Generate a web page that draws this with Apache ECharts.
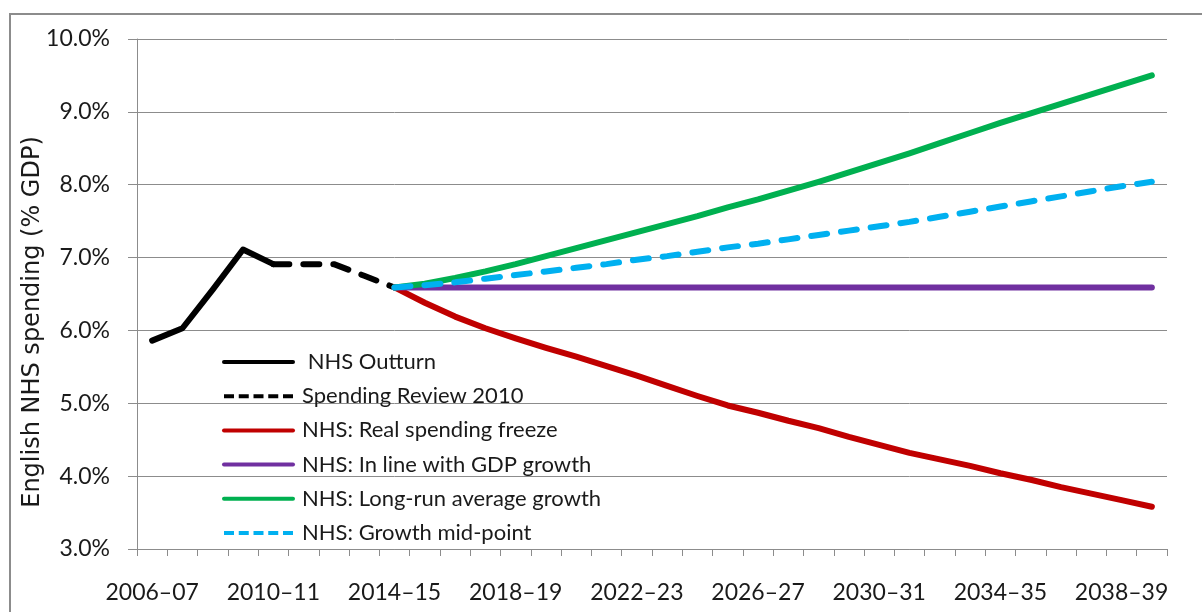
<!DOCTYPE html>
<html>
<head>
<meta charset="utf-8">
<script src="https://cdn.jsdelivr.net/npm/echarts@6/dist/echarts.min.js"></script>
<style>
html,body{margin:0;padding:0;background:#fff;}
#chart{width:1202px;height:612px;}
</style>
</head>
<body>
<div id="chart"></div>
<script>
var categories = ['2006–07','2007–08','2008–09','2009–10','2010–11','2011–12','2012–13','2013–14','2014–15','2015–16','2016–17','2017–18','2018–19','2019–20','2020–21','2021–22','2022–23','2023–24','2024–25','2025–26','2026–27','2027–28','2028–29','2029–30','2030–31','2031–32','2032–33','2033–34','2034–35','2035–36','2036–37','2037–38','2038–39','2039–40'];

var outturn = [5.86, 6.03, 6.56, 7.11, 6.91];
var spendingReview = [6.91, 6.91, 6.91, 6.75, 6.59];
var realFreeze = [6.59, 6.38, 6.19, 6.03, 5.89, 5.76, 5.64, 5.51, 5.38, 5.24, 5.10, 4.97, 4.87, 4.76, 4.66, 4.54, 4.43, 4.32, 4.23, 4.14, 4.04, 3.95, 3.85, 3.76, 3.67, 3.58];
var gdpGrowth = [6.59, 6.59, 6.59, 6.59, 6.59, 6.59, 6.59, 6.59, 6.59, 6.59, 6.59, 6.59, 6.59, 6.59, 6.59, 6.59, 6.59, 6.59, 6.59, 6.59, 6.59, 6.59, 6.59, 6.59, 6.59, 6.59];
var longRun = [6.59, 6.64, 6.72, 6.81, 6.91, 7.02, 7.13, 7.24, 7.35, 7.46, 7.57, 7.69, 7.80, 7.92, 8.04, 8.17, 8.30, 8.43, 8.57, 8.71, 8.85, 8.98, 9.11, 9.24, 9.37, 9.50];
var midPoint = [6.59, 6.62, 6.66, 6.71, 6.76, 6.81, 6.86, 6.91, 6.97, 7.02, 7.08, 7.14, 7.19, 7.25, 7.31, 7.37, 7.43, 7.49, 7.56, 7.63, 7.70, 7.77, 7.84, 7.91, 7.98, 8.04];

var yTicks = {min: 3, max: 10, interval: 1};

function place(values, startIndex) {
  var arr = [];
  for (var i = 0; i < categories.length; i++) {
    var j = i - startIndex;
    arr.push(j >= 0 && j < values.length ? values[j] : null);
  }
  return arr;
}

var FONT = 'Lato';
var chart = echarts.init(document.getElementById('chart'));

function lineSeries(name, data, color, type) {
  return {
    name: name,
    type: 'line',
    data: data,
    symbol: 'none',
    showSymbol: false,
    connectNulls: false,
    animation: false,
    lineStyle: {color: color, width: 6, type: type || 'solid', cap: 'round', join: 'round'},
    itemStyle: {color: color},
    emphasis: {disabled: true}
  };
}

var legendDash = [10, 4.75];

chart.setOption({
  backgroundColor: '#fff',
  animation: false,
  grid: {left: 137, right: 35, top: 39, bottom: 63, containLabel: false, outerBoundsMode: 'none'},
  graphic: [
    {type: 'rect', shape: {x: 10, y: 14, width: 1300, height: 700}, style: {fill: 'none', stroke: '#8c8c8c', lineWidth: 2}, silent: true, z: -1},
    {type: 'text', x: 33, y: 322, rotation: Math.PI / 2,
     style: {text: 'English NHS spending (% GDP)', fontFamily: 'DejaVu Sans', fontSize: 24, fill: '#1a1a1a', align: 'center', verticalAlign: 'middle'}}
  ],
  legend: {
    orient: 'vertical',
    left: 217,
    top: 345,
    itemWidth: 69,
    itemHeight: 14,
    itemGap: 10.2,
    padding: 5,
    selectedMode: false,
    itemStyle: {opacity: 0},
    lineStyle: {width: 4},
    textStyle: {fontFamily: FONT, fontSize: 22, color: '#1a1a1a', lineHeight: 24, padding: [0, 0, 0, 4]},
    data: [
      {name: ' NHS Outturn'},
      {name: 'Spending Review 2010', lineStyle: {width: 4, type: legendDash, cap: 'butt'}},
      {name: 'NHS: Real spending freeze'},
      {name: 'NHS: In line with GDP growth'},
      {name: 'NHS: Long-run average growth'},
      {name: 'NHS: Growth mid-point', lineStyle: {width: 4, type: legendDash, cap: 'butt'}}
    ]
  },
  xAxis: {
    type: 'category',
    data: categories,
    boundaryGap: true,
    axisLine: {lineStyle: {color: '#8c8c8c', width: 1}},
    axisTick: {show: true, interval: 0, length: 7, alignWithLabel: false, lineStyle: {color: '#8c8c8c'}},
    axisLabel: {interval: 3, margin: 32, fontFamily: FONT, fontSize: 23, color: '#1a1a1a'},
    splitLine: {show: false}
  },
  yAxis: {
    type: 'value',
    min: yTicks.min,
    max: yTicks.max,
    interval: yTicks.interval,
    axisLine: {show: true, lineStyle: {color: '#8c8c8c', width: 1}},
    axisTick: {show: true, length: 9, inside: false, lineStyle: {color: '#8c8c8c'}},
    axisLabel: {margin: 27, fontFamily: FONT, fontSize: 23, color: '#1a1a1a', formatter: function (v) { return v.toFixed(1) + '%'; }},
    splitLine: {show: true, lineStyle: {color: '#8c8c8c', width: 1}}
  },
  series: [
    lineSeries(' NHS Outturn', place(outturn, 0), '#000000'),
    lineSeries('Spending Review 2010', place(spendingReview, 4), '#000000', [16, 14]),
    lineSeries('NHS: Real spending freeze', place(realFreeze, 8), '#C00000'),
    lineSeries('NHS: In line with GDP growth', place(gdpGrowth, 8), '#7030A0'),
    lineSeries('NHS: Long-run average growth', place(longRun, 8), '#00B050'),
    lineSeries('NHS: Growth mid-point', place(midPoint, 8), '#00B0F0', [16, 14])
  ]
});
</script>
</body>
</html>
